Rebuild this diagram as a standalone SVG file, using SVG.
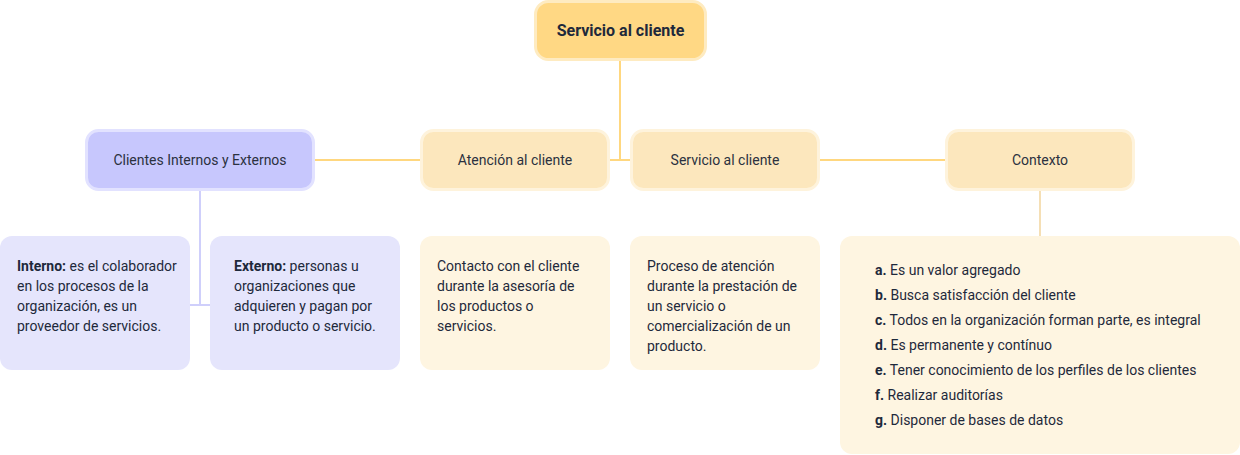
<svg xmlns="http://www.w3.org/2000/svg" width="1240" height="455" viewBox="0 0 1240 455">
<style>
.lbl{font-family:Roboto,"Liberation Sans",sans-serif;font-size:14px;fill:#2b3140;text-anchor:middle}
.ttl{font-family:Roboto,"Liberation Sans",sans-serif;font-size:16px;font-weight:bold;fill:#1e293b;text-anchor:middle}
.txt{font-family:Roboto,"Liberation Sans",sans-serif;font-size:14px;fill:#1e293b}
.b{font-weight:bold}
.yl{stroke:#FFD77F;stroke-width:2;fill:none}
.pl{stroke:#CFCFFB;stroke-width:2;fill:none}
.cl{stroke:#F5DFB5;stroke-width:2;fill:none}
.top{fill:#FFD884;stroke:#FEEBC1;stroke-width:3}
.sec{fill:#FCE7BD;stroke:#FEF3DC;stroke-width:3}
.pur{fill:#C7C7FD;stroke:#E2E2FF;stroke-width:3}
.dy{fill:#FEF5E1}
.dp{fill:#E5E5FC}
</style>
<g id="connectors">
<path class="yl" d="M620 61 V160 M609 160 H631 M315 160 H421 M819 160 H946"/>
<path class="pl" d="M200 191 V305 M190 305 H210"/>
<path class="cl" d="M1040 191 V237"/>
</g>
<g id="n-servicio-top">
<rect class="top" x="535.5" y="1.5" width="170" height="58" rx="13"/>
<text class="ttl" x="620.5" y="36">Servicio al cliente</text>
</g>
<g id="n-clientes">
<rect class="pur" x="86.5" y="130.5" width="227" height="59" rx="12"/>
<text class="lbl" x="200" y="165">Clientes Internos y Externos</text>
</g>
<g id="n-atencion">
<rect class="sec" x="421.5" y="130.5" width="187" height="59" rx="12"/>
<text class="lbl" x="515" y="165">Atención al cliente</text>
</g>
<g id="n-servicio">
<rect class="sec" x="631.5" y="130.5" width="187" height="59" rx="12"/>
<text class="lbl" x="725" y="165">Servicio al cliente</text>
</g>
<g id="n-contexto">
<rect class="sec" x="946.5" y="130.5" width="187" height="59" rx="12"/>
<text class="lbl" x="1040" y="165">Contexto</text>
</g>
<g id="n-interno">
<rect class="dp" x="0" y="236" width="190" height="134" rx="12"/>
<text class="txt" x="17" y="271"><tspan class="b">Interno:</tspan> es el colaborador</text>
<text class="txt" x="17" y="291">en los procesos de la</text>
<text class="txt" x="17" y="311">organización, es un</text>
<text class="txt" x="17" y="331">proveedor de servicios.</text>
</g>
<g id="n-externo">
<rect class="dp" x="210" y="236" width="190" height="134" rx="12"/>
<text class="txt" x="234" y="271"><tspan class="b">Externo:</tspan> personas u</text>
<text class="txt" x="234" y="291">organizaciones que</text>
<text class="txt" x="234" y="311">adquieren y pagan por</text>
<text class="txt" x="234" y="331">un producto o servicio.</text>
</g>
<g id="n-atencion-desc">
<rect class="dy" x="420" y="236" width="190" height="134" rx="12"/>
<text class="txt" x="437" y="271">Contacto con el cliente</text>
<text class="txt" x="437" y="291">durante la asesoría de</text>
<text class="txt" x="437" y="311">los productos o</text>
<text class="txt" x="437" y="331">servicios.</text>
</g>
<g id="n-servicio-desc">
<rect class="dy" x="630" y="236" width="190" height="134" rx="12"/>
<text class="txt" x="647" y="271">Proceso de atención</text>
<text class="txt" x="647" y="291">durante la prestación de</text>
<text class="txt" x="647" y="311">un servicio o</text>
<text class="txt" x="647" y="331">comercialización de un</text>
<text class="txt" x="647" y="351">producto.</text>
</g>
<g id="n-contexto-desc">
<rect class="dy" x="840" y="236" width="400" height="218" rx="12"/>
<text class="txt" x="875" y="275"><tspan class="b">a.</tspan> Es un valor agregado</text>
<text class="txt" x="875" y="300"><tspan class="b">b.</tspan> Busca satisfacción del cliente</text>
<text class="txt" x="875" y="325"><tspan class="b">c.</tspan> Todos en la organización forman parte, es integral</text>
<text class="txt" x="875" y="350"><tspan class="b">d.</tspan> Es permanente y contínuo</text>
<text class="txt" x="875" y="375"><tspan class="b">e.</tspan> Tener conocimiento de los perfiles de los clientes</text>
<text class="txt" x="875" y="400"><tspan class="b">f.</tspan> Realizar auditorías</text>
<text class="txt" x="875" y="425"><tspan class="b">g.</tspan> Disponer de bases de datos</text>
</g>
</svg>
